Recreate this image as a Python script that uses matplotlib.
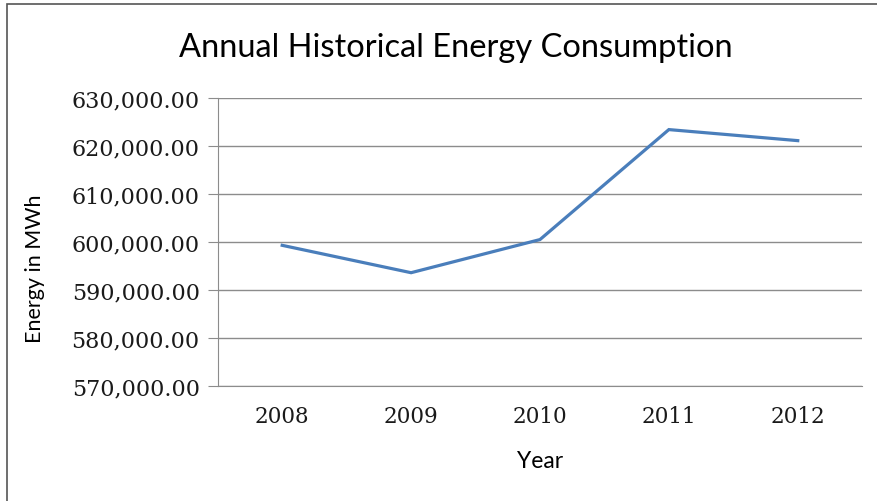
import matplotlib.pyplot as plt
from matplotlib.patches import Rectangle
from matplotlib.ticker import FuncFormatter

# Annual energy consumption
years = ['2008', '2009', '2010', '2011', '2012']
energy_mwh = [599300, 593600, 600500, 623400, 621100]

fig = plt.figure(figsize=(8.78, 5.02), dpi=100)
ax = fig.add_axes([0.248, 0.229, 0.734, 0.574])

ax.plot(range(len(years)), energy_mwh, color='#4a7ebb', linewidth=2.3, solid_joinstyle='miter')

ax.set_xlim(-0.5, len(years) - 0.5)
ax.set_ylim(570000, 630000)
ax.set_yticks(range(570000, 630001, 10000))
ax.yaxis.set_major_formatter(FuncFormatter(lambda v, p: f"{v:,.2f}"))
ax.set_xticks(range(len(years)))
ax.set_xticklabels(years)

ax.grid(axis='y', color='#8c8c8c', linewidth=1.0)
ax.set_axisbelow(True)
for side in ['top', 'right']:
    ax.spines[side].set_visible(False)
ax.spines['left'].set_color('#8c8c8c')
ax.spines['bottom'].set_color('#8c8c8c')
ax.tick_params(axis='y', length=7, color='#8c8c8c', pad=6)
ax.tick_params(axis='x', length=0, pad=14)

for lbl in ax.get_yticklabels():
    lbl.set_family('DejaVu Serif')
    lbl.set_fontsize(16)
    lbl.set_color('#1a1a1a')
for lbl in ax.get_xticklabels():
    lbl.set_family('DejaVu Serif')
    lbl.set_fontsize(15.5)
    lbl.set_color('#1a1a1a')

ax.set_xlabel('Year', family='Lato', fontsize=16.5, labelpad=16)
ax.set_ylabel('Energy in MWh', family='Lato', fontsize=15.5)
ax.yaxis.set_label_coords(-0.268, 0.41)
fig.text(0.519, 0.905, 'Annual Historical Energy Consumption', family='Lato',
         fontsize=23.5, ha='center', va='center')

# chart border like the spreadsheet frame
fig.patches.append(Rectangle((0.008, -0.1), 1.5, 1.09, transform=fig.transFigure,
                             fill=False, edgecolor='#555555', linewidth=1.2))

fig.savefig('out.png', dpi=100)
